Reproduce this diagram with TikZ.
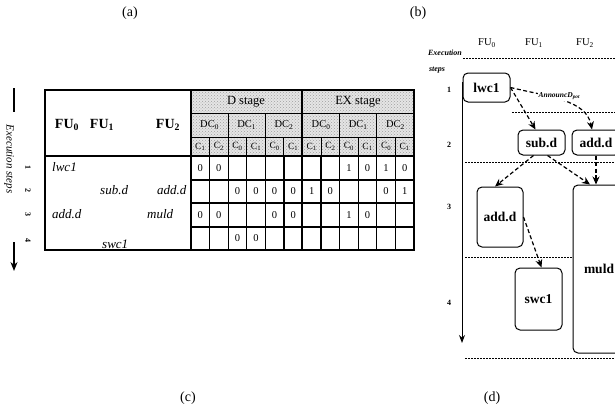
\documentclass[tikz,border=0pt]{standalone}
\usepackage{fontspec}
\setmainfont{Liberation Serif}
\usetikzlibrary{arrows.meta,patterns}
\begin{document}
\begin{tikzpicture}[x=1pt,y=-1pt,
  title/.style={font=\fontsize{14}{14}\selectfont},
  fuhead/.style={font=\bfseries\fontsize{14}{14}\selectfont},
  instr/.style={font=\itshape\fontsize{13}{13}\selectfont, inner sep=0, anchor=west},
  cellnum/.style={font=\fontsize{10.5}{10}\selectfont, inner sep=0},
  clab/.style={font=\fontsize{9.5}{9}\selectfont, inner sep=0},
  dclab/.style={font=\fontsize{10.5}{10}\selectfont, inner sep=0},
  stagelab/.style={font=\fontsize{12.5}{12}\selectfont, inner sep=1pt},
  thickline/.style={line width=1.8pt},
  midline/.style={line width=1.2pt},
  thinline/.style={line width=0.9pt},
  sidelab/.style={font=\itshape\fontsize{11}{11}\selectfont, rotate=-90, inner sep=0},
  sidenum/.style={font=\bfseries\fontsize{8}{8}\selectfont, rotate=-90, inner sep=0},
  rbox/.style={draw, rounded corners=5pt, line width=1pt, inner sep=0,
    font=\bfseries\fontsize{13.5}{13}\selectfont},
  darr/.style={line width=1.2pt, dash pattern=on 4pt off 2.5pt, -{Stealth[length=8pt,width=7pt]}},
  sep/.style={line width=0.6pt, dash pattern=on 2pt off 1pt},
  small/.style={font=\bfseries\itshape\fontsize{8}{8}\selectfont, inner sep=0},
  rnum/.style={font=\bfseries\fontsize{8}{8}\selectfont, inner sep=0},
  rfu/.style={font=\fontsize{10.5}{10}\selectfont, inner sep=0}
]
\useasboundingbox (0,0) rectangle (615,412);
\clip (0,0) rectangle (615,412);

% titles
\node[title] (ta) at (130,13) {(a)};
\node[title] (tb) at (418,13) {(b)};
\node[title] (tc) at (188,398) {(c)};
\node[title] (td) at (492,398) {(d)};

% ---------------- table (c) ----------------
\fill[gray!20] (191,90) rectangle (414,156);
\fill[pattern=crosshatch dots, pattern color=gray!75] (191,90) rectangle (414,156);
\draw[thinline] (191,113) -- (414,113);
\draw[thinline] (191,137) -- (414,137);
\foreach \i in {2,4,8,10} {
  \draw[thinline] (191+18.58*\i,113) -- (191+18.58*\i,156);
}
\foreach \i in {1,3,5,7,9,11} {
  \draw[thinline] (191+18.58*\i,137) -- (191+18.58*\i,156);
}
\foreach \y in {180,203,227} {
  \draw[midline] (191,\y) -- (414,\y);
}
\foreach \i in {1,...,5,7,8,...,11} {
  \draw[midline] (191+18.58*\i,156) -- (191+18.58*\i,250);
}
\draw[thickline] (45,90) rectangle (414,250);
\draw[thickline] (45,156) -- (414,156);
\draw[thickline] (191,90) -- (191,250);
\draw[thickline] (302,90) -- (302,250);

% header labels
\node[fuhead] (fu0) at (67,125) {FU\textsubscript{0}};
\node[fuhead] (fu1) at (102,125) {FU\textsubscript{1}};
\node[fuhead] (fu2) at (168,125) {FU\textsubscript{2}};
\node[stagelab] (dst) at (246,101.5) {D stage};
\node[stagelab] (exst) at (358,101.5) {EX stage};
\foreach \i/\k in {1/0,3/1,5/2} {
  \node[dclab] (ddc\i) at (191+18.58*\i,125) {DC\textsubscript{\k}};
}
\foreach \i/\k in {7/0,9/1,11/2} {
  \node[dclab] (edc\i) at (191+18.58*\i,125) {DC\textsubscript{\k}};
}
\foreach \i/\k in {1/1,2/2,3/0,4/1,5/0,6/1,7/1,8/2,9/0,10/1,11/0,12/1} {
  \node[clab] (c\i) at (191+18.58*\i-9.29,146.5) {C\textsubscript{\k}};
}
\foreach \c/\r/\v in {1/1/0,2/1/0,9/1/1,10/1/0,11/1/1,12/1/0,
  3/2/0,4/2/0,5/2/0,6/2/0,7/2/1,8/2/0,11/2/0,12/2/1,
  1/3/0,2/3/0,5/3/0,6/3/0,9/3/1,10/3/0,
  3/4/0,4/4/0} {
  \node[cellnum] (v\c-\r) at (191+18.58*\c-9.29,156+23.5*\r-11.75) {\v};
}
\node[instr] (i1) at (52,167) {lwc1};
\node[instr] (i2) at (100,190) {sub.d};
\node[instr] (i3) at (157,190) {add.d};
\node[instr] (i4) at (52,214) {add.d};
\node[instr] (i5) at (147,214) {muld};
\node[instr] (i6) at (102,244) {swc1};

% left side
\coordinate (la) at (14,88);
\coordinate (lb) at (14,112);
\coordinate (lc) at (14,242);
\coordinate (ld) at (14,271);
\draw[line width=1.5pt] (la) -- (lb);
\draw[line width=1.5pt, -{Stealth[length=9pt,width=7pt]}] (lc) -- (ld);
\node[sidelab] (exs) at (9,159) {Execution steps};
\foreach \n/\y in {1/167,2/190,3/214,4/240} {
  \node[sidenum] (sn\n) at (28,\y) {\n};
}

% ---------------- panel (d) ----------------
\node[small] (exe) at (445,53) {Execution};
\node[small] (stp) at (437,70) {steps};
\node[rfu] (rf0) at (487,43) {FU\textsubscript{0}};
\node[rfu] (rf1) at (534,43) {FU\textsubscript{1}};
\node[rfu] (rf2) at (585,43) {FU\textsubscript{2}};
\foreach \n/\y in {1/90,2/145,3/207,4/303} {
  \node[rnum] (rn\n) at (449,\y) {\n};
}
\coordinate (s1a) at (463,58);  \coordinate (s1b) at (615,58);
\coordinate (s2a) at (512,112); \coordinate (s2b) at (615,112);
\coordinate (s3a) at (465,162); \coordinate (s3b) at (615,162);
\coordinate (s4a) at (465,257); \coordinate (s4b) at (573,257);
\coordinate (s5a) at (465,358); \coordinate (s5b) at (615,358);
\draw[sep] (s1a) -- (s1b);
\draw[sep] (s2a) -- (s2b);
\draw[sep] (s3a) -- (s3b);
\draw[sep] (s4a) -- (s4b);
\draw[sep] (s5a) -- (s5b);
\coordinate (ax1) at (462,82);
\coordinate (ax2) at (462,343);
\draw[line width=1pt, -{Stealth[length=8pt,width=6pt]}] (ax1) -- (ax2);

\node[rbox, minimum width=47pt, minimum height=29pt] (lwc) at (486.5,87.5) {lwc1};
\node[rbox, minimum width=47pt, minimum height=25pt] (sub) at (541.5,142.5) {sub.d};
\node[rbox, minimum width=48pt, minimum height=25pt] (addt) at (596,142.5) {add.d};
\node[rbox, minimum width=46pt, minimum height=60pt] (addm) at (500,217) {add.d};
\node[rbox, minimum width=52pt, minimum height=168pt] (muld) at (599,269) {muld};
\node[rbox, minimum width=47pt, minimum height=62pt] (swc) at (538.5,299) {swc1};

\draw[darr] (lwc.east) -- ([xshift=-6pt]sub.north);
\draw[darr] (lwc.east) .. controls (550,97) and (586,100) .. ([xshift=-4pt]addt.north)
  node[pos=0.45, above=-2pt, fill=white, font=\bfseries\itshape\fontsize{7.5}{7}\selectfont, inner sep=0.8pt] (ann) {AnnouncD\textsubscript{pot}};
\draw[darr] ([xshift=-8pt]sub.south) -- ([xshift=-5pt]addm.north);
\draw[darr] ([xshift=6pt]sub.south) -- ([xshift=-9pt]muld.north);
\draw[darr] (addt.south) -- (addt.south |- muld.north);
\draw[darr] (addm.east) -- ([xshift=3pt]swc.north);
\end{tikzpicture}
\end{document}
